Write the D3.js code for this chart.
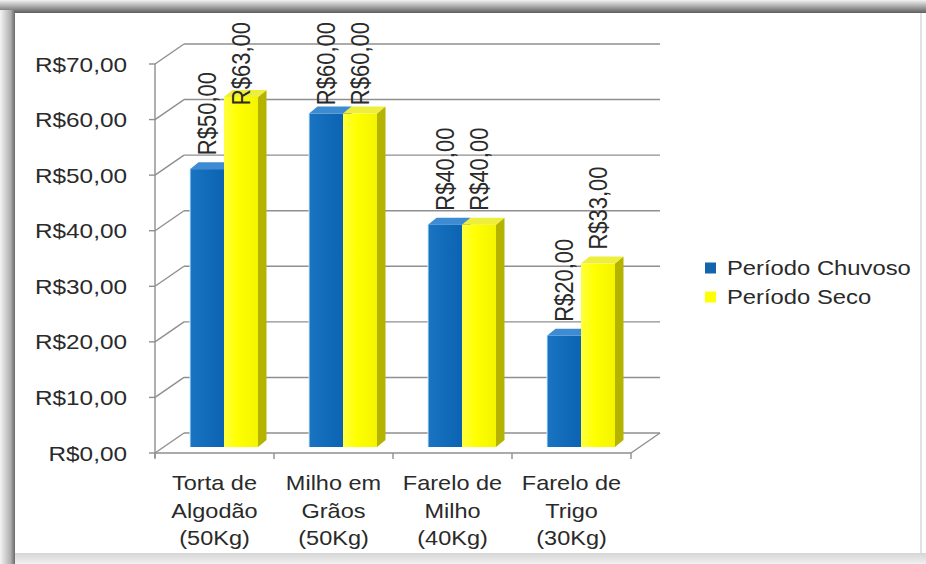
<!DOCTYPE html>
<meta charset="utf-8">
<html>
<head>
<script src="https://d3js.org/d3.v7.min.js"></script>
<style>
  body { margin: 0; background: #fff; }
  text { font-family: "Liberation Sans", Arial, sans-serif; fill: #2a2a2a; }
</style>
</head>
<body>
<script>
// dados
var categorias = [
  ["Torta de", "Algodão", "(50Kg)"],
  ["Milho em", "Grãos", "(50Kg)"],
  ["Farelo de", "Milho", "(40Kg)"],
  ["Farelo de", "Trigo", "(30Kg)"]
];
var chuvoso = [50, 60, 40, 20];
var seco = [63, 60, 40, 33];
var series = ["Período Chuvoso", "Período Seco"];
var yTicks = [0, 10, 20, 30, 40, 50, 60, 70];

var largura = 926, altura = 564;
var dx = 29, dy = -20;          // profundidade da caixa 3D
var bdx = 8.5, bdy = -7;        // profundidade das barras
var sx = 1.16;                  // texto esticado na horizontal

var svg = d3.select("body").append("svg")
  .attr("width", largura).attr("height", altura);

var defs = svg.append("defs");
function grad(id, x2, y2, stops) {
  var g = defs.append("linearGradient").attr("id", id)
    .attr("x1", 0).attr("y1", 0).attr("x2", x2).attr("y2", y2);
  stops.forEach(function (s) { g.append("stop").attr("offset", s[0]).attr("stop-color", s[1]); });
}
grad("gTop", 0, 1, [[0, "#f2f2f2"], [0.6, "#9a9a9a"], [1, "#5e5e5e"]]);
grad("gLeft", 1, 0, [[0, "#f4f4f4"], [0.7, "#b0b0b0"], [1, "#6a6a6a"]]);
grad("gBot", 0, 1, [[0, "#d6d6d6"], [1, "#f0f0f0"]]);
grad("gYel", 1, 0, [[0, "#ffff40"], [0.4, "#ffff00"], [1, "#f4f400"]]);
grad("gBlu", 1, 0, [[0, "#1a74c2"], [1, "#0b63b2"]]);

// moldura
svg.append("rect").attr("x", 0).attr("y", 0).attr("width", largura).attr("height", 13).attr("fill", "url(#gTop)");
svg.append("rect").attr("x", 0).attr("y", 10).attr("width", 15).attr("height", altura).attr("fill", "url(#gLeft)");
svg.append("rect").attr("x", 15).attr("y", 553).attr("width", largura).attr("height", 11).attr("fill", "url(#gBot)");
svg.append("line").attr("x1", 921).attr("x2", 921).attr("y1", 13).attr("y2", 553).attr("stroke", "#e2e2e2").attr("stroke-width", 2);

// escalas
var x = d3.scaleBand().domain(d3.range(categorias.length)).range([155, 631]);
var yAx = d3.scaleLinear().domain([0, 70]).range([453, 64]);
var yBar = d3.scaleLinear().domain([0, 70]).range([447, 58]);

var grid = svg.append("g").attr("stroke", "#8f8f8f").attr("stroke-width", 1.4).attr("fill", "none");
var x0 = x.range()[0], x1 = x.range()[1];

yTicks.forEach(function (t) {
  var yy = yAx(t);
  // parede de fundo + parede lateral
  grid.append("line").attr("x1", x0 + dx).attr("x2", x1 + dx).attr("y1", yy + dy).attr("y2", yy + dy);
  grid.append("line").attr("x1", x0).attr("x2", x0 + dx).attr("y1", yy).attr("y2", yy + dy);
  grid.append("line").attr("x1", x0 - 6).attr("x2", x0).attr("y1", yy).attr("y2", yy);
});
// eixo vertical e chão
grid.append("line").attr("x1", x0).attr("x2", x0).attr("y1", yAx(70)).attr("y2", yAx(0) + 5);
grid.append("line").attr("x1", x0).attr("x2", x1).attr("y1", yAx(0)).attr("y2", yAx(0));
grid.append("line").attr("x1", x1).attr("x2", x1 + dx).attr("y1", yAx(0)).attr("y2", yAx(0) + dy);
d3.range(categorias.length + 1).forEach(function (i) {
  var xx = i < categorias.length ? x(i) : x1;
  grid.append("line").attr("x1", xx).attr("x2", xx).attr("y1", yAx(0)).attr("y2", yAx(0) + 6);
});

// rótulos eixo y
svg.append("g").selectAll("text").data(yTicks).enter().append("text")
  .attr("transform", function (d) { return "translate(127," + yAx(d) + ") scale(" + sx + ",1)"; })
  .attr("dy", "0.36em").attr("text-anchor", "end").style("font-size", "21px")
  .text(function (d) { return "R$" + d.toFixed(2).replace(".", ","); });

// rótulos categorias
var cat = svg.append("g");
categorias.forEach(function (linhas, i) {
  linhas.forEach(function (l, j) {
    cat.append("text")
      .attr("transform", "translate(" + (x(i) + x.bandwidth() / 2) + "," + (490 + j * 27.5) + ") scale(" + (sx - 0.04) + ",1)")
      .attr("text-anchor", "middle").style("font-size", "21px").text(l);
  });
});

// barras
var bw = 34, off = 35;
var cores = [
  { front: "url(#gBlu)", top: "#3d8cd3", side: "#0a4f8f", legend: "#1464ad" },
  { front: "url(#gYel)", top: "#eeee3c", side: "#b4b400", legend: "#ffff00" }
];
var valores = [chuvoso, seco];
var barras = svg.append("g");
var rotulos = svg.append("g");

d3.range(categorias.length).forEach(function (i) {
  valores.forEach(function (serie, s) {
    var v = serie[i];
    var bx0 = x(i) + off + s * bw, bx1 = bx0 + bw;
    var yb = yBar(0), yt = yBar(v);
    var c = cores[s];
    barras.append("path")
      .attr("d", "M" + bx1 + "," + yb + "L" + (bx1 + bdx) + "," + (yb + bdy) + "L" + (bx1 + bdx) + "," + (yt + bdy) + "L" + bx1 + "," + yt + "Z")
      .attr("fill", c.side);
    barras.append("path")
      .attr("d", "M" + bx0 + "," + yt + "L" + (bx0 + bdx) + "," + (yt + bdy) + "L" + (bx1 + bdx) + "," + (yt + bdy) + "L" + bx1 + "," + yt + "Z")
      .attr("fill", c.top);
    barras.append("rect")
      .attr("x", bx0).attr("y", yt).attr("width", bw).attr("height", yb - yt)
      .attr("fill", c.front);
    if (s === 0) {
      barras.append("line").attr("x1", bx0).attr("x2", bx0).attr("y1", yt).attr("y2", yb)
        .attr("stroke", "#cdeeff").attr("stroke-width", 1);
    }

    var t = rotulos.append("text")
      .attr("text-anchor", "start").attr("dy", "0.36em").style("font-size", "22px")
      .text("R$" + v.toFixed(2).replace(".", ","));
    var len = t.node().getComputedTextLength();
    var start = Math.max(yt - 14, 22 + len);
    t.attr("transform", "translate(" + (bx0 + bw / 2) + "," + start + ") scale(" + sx + ",1) rotate(-90)");
  });
});

// legenda
var leg = svg.append("g");
series.forEach(function (nome, s) {
  var ly = 268 + s * 29;
  leg.append("rect").attr("x", 705).attr("y", ly - 5.5).attr("width", 11).attr("height", 11)
    .attr("fill", cores[s].legend);
  leg.append("text")
    .attr("transform", "translate(727," + ly + ") scale(1.19,1)")
    .attr("dy", "0.36em").style("font-size", "20px").text(nome);
});
</script>
</body>
</html>
